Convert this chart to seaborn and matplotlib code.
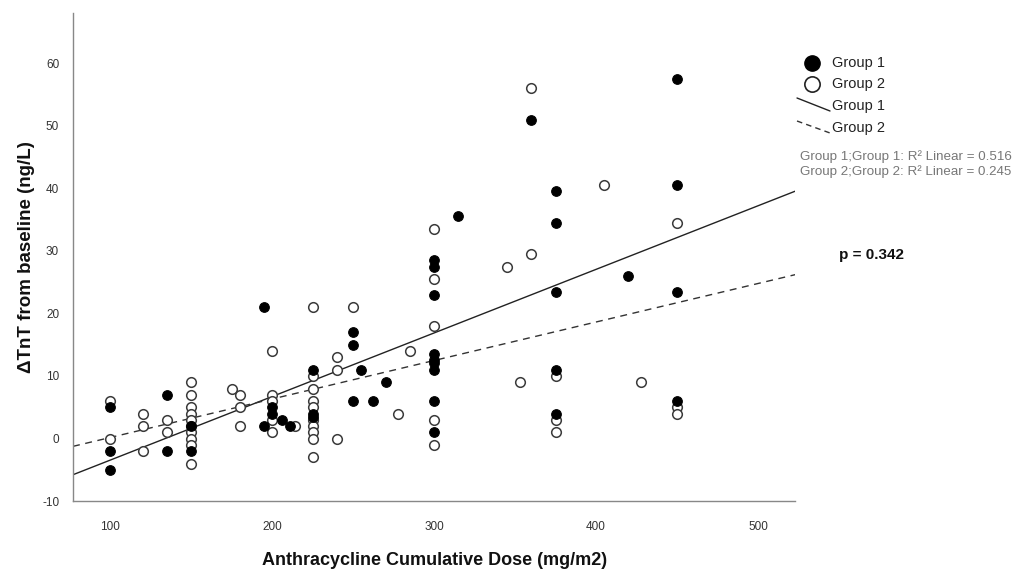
import matplotlib
matplotlib.use("Agg")
import matplotlib.pyplot as plt
from matplotlib.lines import Line2D
import seaborn as sns
import pandas as pd
import numpy as np

# ---- data ----
g1_dose = [100, 100, 100, 135, 135, 150, 150, 195, 195, 200, 200, 206, 211,
           225, 225, 225, 250, 250, 250, 255, 262, 270,
           300, 300, 300, 300, 300, 300, 300, 300, 300, 315, 360,
           375, 375, 375, 375, 375, 420, 450, 450, 450, 450]
g1_tnt = [5, -2, -5, 7, -2, 2, -2, 21, 2, 5, 4, 3, 2,
          11, 4, 3.5, 17, 15, 6, 11, 6, 9,
          28.5, 27.5, 23, 13.5, 12.5, 12, 11, 6, 1, 35.5, 51,
          39.5, 34.5, 23.5, 11, 4, 26, 57.5, 40.5, 23.5, 6]

g2_dose = [100, 100, 120, 120, 120, 135, 135,
           150, 150, 150, 150, 150, 150, 150, 150, 150, 150,
           175, 180, 180, 180, 200, 200, 200, 200, 200, 214,
           225, 225, 225, 225, 225, 225, 225, 225, 225, 225,
           240, 240, 240, 250, 278, 285,
           300, 300, 300, 300, 300, 345, 353, 360, 360,
           375, 375, 375, 405, 428, 450, 450, 450]
g2_tnt = [6, 0, 4, 2, -2, 3, 1,
          9, 7, 5, 4, 3, 2, 1, 0, -1, -4,
          8, 7, 5, 2, 14, 7, 6, 3, 1, 2,
          21, 10, 8, 6, 5, 3, 2, 1, 0, -3,
          13, 11, 0, 21, 4, 14,
          33.5, 25.5, 18, 3, -1, 27.5, 9, 56, 29.5,
          10, 3, 1, 40.5, 9, 34.5, 5, 4]

x_ticks = [100, 200, 300, 400, 500]
y_ticks = [-10, 0, 10, 20, 30, 40, 50, 60]
group_names = ["Group 1", "Group 2"]
r2_labels = ["Group 1;Group 1: R\u00b2 Linear = 0.516",
             "Group 2;Group 2: R\u00b2 Linear = 0.245"]
p_text = "p = 0.342"

df1 = pd.DataFrame({"dose": g1_dose, "tnt": g1_tnt})
df2 = pd.DataFrame({"dose": g2_dose, "tnt": g2_tnt})

sns.set_theme(style="white")
plt.rcParams["font.family"] = ["Liberation Sans", "DejaVu Sans"]
plt.rcParams["axes.unicode_minus"] = False

fig = plt.figure(figsize=(10.2, 5.74), dpi=100)
ax = fig.add_axes([0.0716, 0.127, 0.708, 0.850])
XLIM = (77, 523)
YLIM = (-10, 68)
ax.set_xlim(*XLIM)
ax.set_ylim(*YLIM)

# regression lines across the full axis range
sns.regplot(data=df1, x="dose", y="tnt", ax=ax, scatter=False, ci=None,
            truncate=False, color="#222222", line_kws=dict(lw=1.0))
sns.regplot(data=df2, x="dose", y="tnt", ax=ax, scatter=False, ci=None,
            truncate=False, color="#333333",
            line_kws=dict(lw=1.0, linestyle=(0, (5, 4))))

sns.scatterplot(data=df2, x="dose", y="tnt", ax=ax, marker="o", s=48,
                facecolor="white", edgecolor="#3a3a3a", linewidth=1.1, zorder=3)
sns.scatterplot(data=df1, x="dose", y="tnt", ax=ax, marker="o", s=48,
                color="black", edgecolor="black", linewidth=0.8, zorder=4)

ax.set_xlim(*XLIM)
ax.set_ylim(*YLIM)
ax.set_xticks(x_ticks)
ax.set_yticks(y_ticks)
ax.tick_params(axis="both", length=0, labelsize=8.5, labelcolor="#333333")
ax.tick_params(axis="y", pad=10)
ax.tick_params(axis="x", pad=14)
for s in ["top", "right"]:
    ax.spines[s].set_visible(False)
for s in ["left", "bottom"]:
    ax.spines[s].set_color("#888888")
    ax.spines[s].set_linewidth(1.0)

ax.set_xlabel("Anthracycline Cumulative Dose (mg/m2)", fontsize=13,
              fontweight="bold", color="#111111", labelpad=14)
ax.set_ylabel("\u0394TnT from baseline (ng/L)", fontsize=13.5,
              fontweight="bold", color="#111111", labelpad=5)

# ---- manual legend (SPSS style) ----
W, H = 1020, 574
def fx(px): return px / W
def fy(py): return 1 - py / H

fig.add_artist(Line2D([fx(812)], [fy(63)], marker="o", markersize=11,
                      color="black", linestyle="none"))
fig.add_artist(Line2D([fx(812)], [fy(84)], marker="o", markersize=11,
                      markerfacecolor="white", markeredgecolor="#222222",
                      markeredgewidth=1.2, linestyle="none"))
fig.add_artist(Line2D([fx(797), fx(830)], [fy(98), fy(111)], color="#222222", lw=1.0))
fig.add_artist(Line2D([fx(797), fx(830)], [fy(121), fy(133)], color="#333333",
                      lw=1.0, linestyle=(0, (4, 3))))
for py, name in zip([63, 84, 106, 128], group_names + group_names):
    fig.text(fx(832), fy(py), name, fontsize=10.5, color="#222222",
             va="center", ha="left")
for py, t in zip([157, 172], r2_labels):
    fig.text(fx(800), fy(py), t, fontsize=9.6, color="#777777",
             va="center", ha="left")

fig.text(fx(839), fy(255), p_text, fontsize=11, fontweight="bold",
         color="#111111", va="center", ha="left")

fig.savefig("out.png", dpi=100)
